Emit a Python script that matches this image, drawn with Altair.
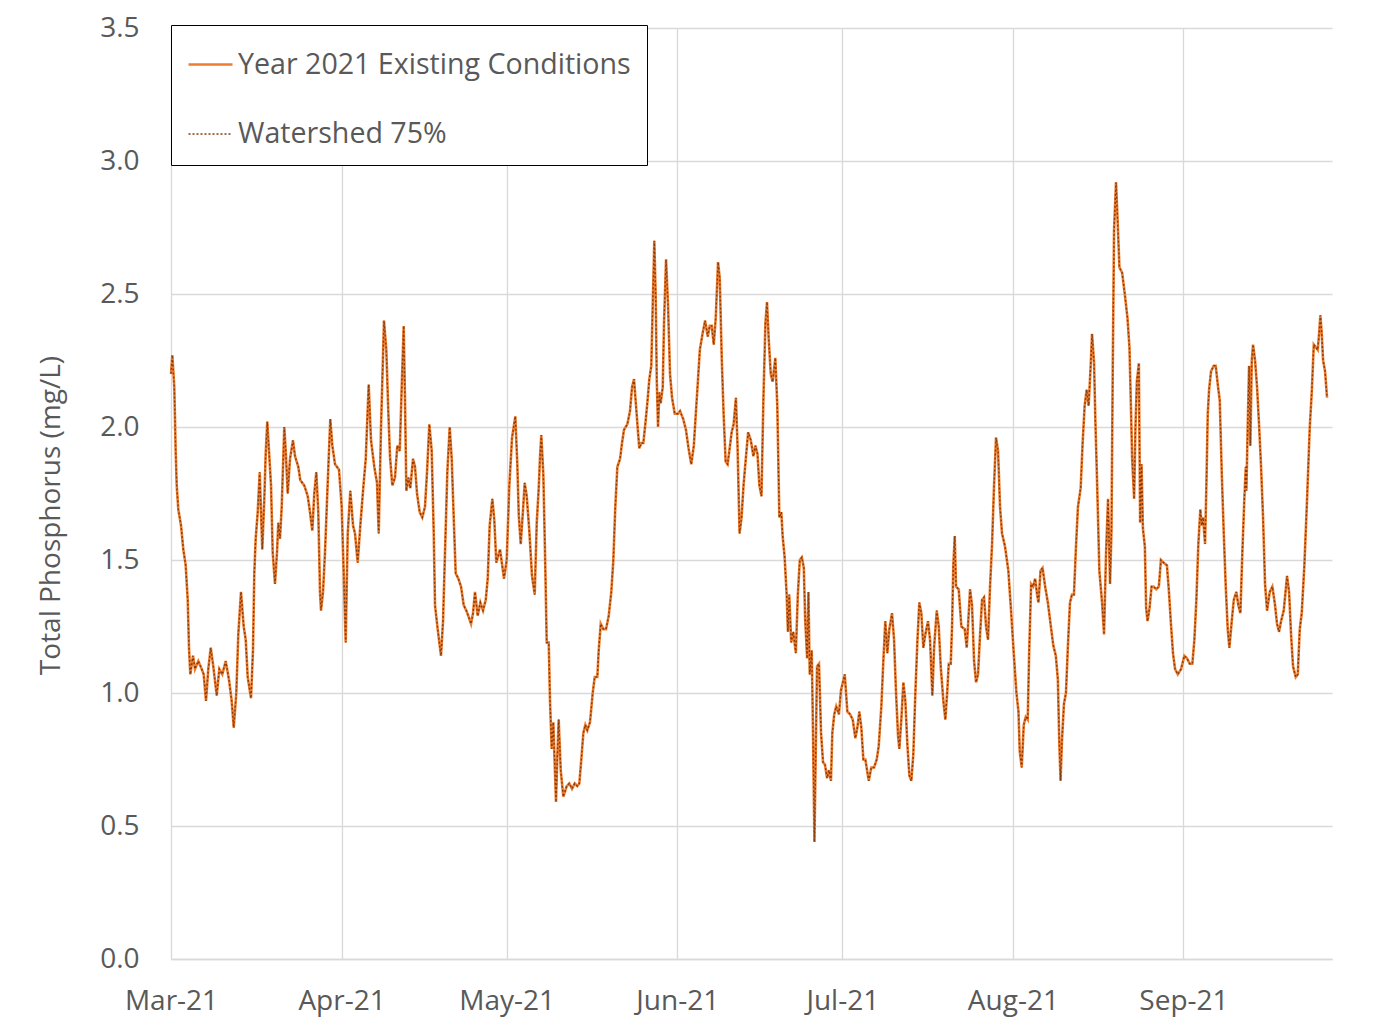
import altair as alt
import pandas as pd

# Days since 2021-03-01 and total phosphorus (mg/L)
MAR = [(0.00,2.20),(0.24,2.27),(0.60,2.15),(0.85,1.91),(1.04,1.78),(1.33,1.69),(1.82,1.63),(2.24,1.54),(2.67,1.48),(3.04,1.35),(3.27,1.17),(3.51,1.07),(4.00,1.14),(4.36,1.09),(4.96,1.12),(5.58,1.09),(5.94,1.07),(6.36,0.97),(6.78,1.09),(7.22,1.17),(7.69,1.10),(8.31,0.99),(8.78,1.09),(9.32,1.07),(9.94,1.12),(10.54,1.05),(11.03,0.97),(11.40,0.87),(11.87,1.00),(12.23,1.22),(12.72,1.38),(13.21,1.25),(13.58,1.20),(13.94,1.06),(14.54,0.98),(14.90,1.16),(15.14,1.45),(15.39,1.58),(15.76,1.68),(16.12,1.83),(16.59,1.54),(16.96,1.73),(17.21,1.90),(17.50,2.02),(17.81,1.91),(18.18,1.78),(18.48,1.53),(18.90,1.41),(19.27,1.53),(19.50,1.64),(19.81,1.58),(20.12,1.70),(20.59,2.00),(20.85,1.91),(21.21,1.75),(21.63,1.88),(22.17,1.95),(22.54,1.89),(23.14,1.85),(23.50,1.80),(24.23,1.78),(24.85,1.74),(25.26,1.68),(25.68,1.61),(26.04,1.75),(26.41,1.83),(26.77,1.68),(27.08,1.38),(27.26,1.31),(27.63,1.38),(27.99,1.53),(28.48,1.79),(28.95,2.03),(29.32,1.93),(29.81,1.86),(30.53,1.84)]
APR = [(31.02,1.70),(31.39,1.45),(31.75,1.19),(32.12,1.60),(32.59,1.76),(33.08,1.63),(33.44,1.60),(33.93,1.49),(34.41,1.63),(34.90,1.76),(35.39,1.88),(35.93,2.16),(36.35,1.95),(36.95,1.85),(37.44,1.79),(37.75,1.60),(38.17,2.00),(38.71,2.40),(39.13,2.29),(39.49,2.06),(39.80,1.89),(40.22,1.78),(40.71,1.81),(41.13,1.93),(41.57,1.91),(41.93,2.15),(42.29,2.38),(42.53,2.10),(42.77,1.76),(43.13,1.81),(43.49,1.77),(43.98,1.88),(44.35,1.85),(44.71,1.75),(45.20,1.68),(45.67,1.66),(46.16,1.70),(46.53,1.83),(46.95,2.01),(47.38,1.91),(47.75,1.60),(47.98,1.33),(48.47,1.24),(49.07,1.14),(49.44,1.27),(49.80,1.53),(50.22,1.83),(50.65,2.00),(51.02,1.88),(51.38,1.66),(51.74,1.45),(52.22,1.43),(52.71,1.40),(53.20,1.33),(53.67,1.31),(54.03,1.29),(54.53,1.26),(54.89,1.30),(55.25,1.38),(55.74,1.29),(56.22,1.34),(56.71,1.31),(57.20,1.35),(57.56,1.43),(57.92,1.63),(58.40,1.73),(58.76,1.65),(59.12,1.49),(59.80,1.54),(60.52,1.43)]
MAY = [(61.01,1.50),(61.49,1.78),(61.98,1.96),(62.58,2.04),(62.94,1.86),(63.20,1.67),(63.56,1.56),(63.92,1.67),(64.28,1.79),(64.65,1.74),(65.12,1.61),(65.61,1.44),(66.10,1.37),(66.47,1.64),(66.83,1.77),(67.07,1.89),(67.30,1.97),(67.67,1.82),(68.03,1.47),(68.28,1.19),(68.65,1.19),(68.88,0.97),(69.19,0.79),(69.48,0.89),(69.74,0.73),(69.97,0.59),(70.21,0.76),(70.46,0.90),(70.83,0.71),(71.30,0.61),(71.92,0.65),(72.39,0.66),(72.88,0.64),(73.37,0.66),(73.85,0.65),(74.21,0.66),(74.57,0.75),(74.94,0.85),(75.30,0.88),(75.66,0.86),(76.15,0.89),(76.64,1.00),(77.01,1.06),(77.48,1.06),(77.73,1.16),(78.10,1.26),(78.57,1.24),(79.06,1.24),(79.55,1.29),(80.02,1.38),(80.39,1.50),(80.75,1.70),(81.12,1.85),(81.61,1.88),(81.97,1.94),(82.33,1.99),(82.93,2.01),(83.42,2.06),(83.79,2.15),(84.15,2.18),(84.51,2.08),(84.88,1.98),(85.11,1.92),(85.48,1.94),(85.84,1.94),(86.20,2.01),(86.57,2.09),(86.93,2.18),(87.29,2.23),(87.55,2.46),(87.84,2.70),(88.09,2.49),(88.28,2.18),(88.51,2.00),(88.75,2.13),(89.00,2.09),(89.37,2.15),(89.60,2.39),(89.97,2.63),(90.33,2.46),(90.69,2.20),(91.06,2.11),(91.55,2.05)]
JUN = [(92.15,2.05),(92.51,2.06),(93.09,2.03),(93.58,1.99),(94.06,1.92),(94.55,1.86),(95.02,1.93),(95.38,2.05),(95.75,2.17),(96.11,2.29),(96.60,2.35),(97.07,2.40),(97.55,2.34),(97.91,2.38),(98.27,2.38),(98.64,2.31),(99.00,2.41),(99.42,2.62),(99.73,2.56),(100.09,2.26),(100.43,2.05),(100.80,1.87),(101.16,1.86),(101.53,1.92),(101.89,1.98),(102.25,2.01),(102.67,2.11),(102.96,1.93),(103.33,1.60),(103.69,1.66),(104.05,1.78),(104.42,1.87),(104.89,1.98),(105.38,1.95),(105.85,1.89),(106.21,1.93),(106.58,1.90),(106.94,1.78),(107.31,1.74),(107.67,2.11),(108.03,2.39),(108.32,2.47),(108.63,2.33),(109.00,2.20),(109.34,2.17),(109.83,2.26),(110.19,2.08),(110.56,1.66),(110.92,1.68),(111.16,1.59),(111.52,1.51),(111.89,1.37),(112.12,1.23),(112.36,1.37),(112.72,1.19),(113.09,1.23),(113.56,1.15),(113.92,1.37),(114.28,1.50),(114.65,1.51),(115.01,1.47),(115.25,1.28),(115.61,1.13),(115.85,1.38),(116.08,1.07),(116.45,1.16),(116.68,0.85),(116.94,0.44),(117.17,0.77),(117.41,1.10),(117.77,1.11),(118.14,0.85),(118.50,0.74),(118.86,0.73),(119.23,0.68),(119.57,0.71),(119.94,0.67),(120.19,0.85),(120.54,0.92),(120.90,0.95),(121.39,0.92),(121.76,1.01)]
JUL = [(122.45,1.07),(122.92,0.93),(123.41,0.92),(123.90,0.90),(124.37,0.83),(124.74,0.87),(125.10,0.93),(125.46,0.87),(125.83,0.75),(126.19,0.75),(126.81,0.67),(127.28,0.72),(127.77,0.72),(128.26,0.75),(128.62,0.80),(129.10,0.95),(129.46,1.12),(129.82,1.27),(130.19,1.15),(130.55,1.24),(131.04,1.30),(131.41,1.20),(131.77,1.00),(132.13,0.84),(132.37,0.79),(132.73,0.90),(133.10,1.04),(133.46,0.97),(133.82,0.81),(134.19,0.69),(134.55,0.67),(134.91,0.77),(135.28,1.00),(135.64,1.19),(136.00,1.34),(136.37,1.30),(136.73,1.17),(137.09,1.22),(137.58,1.27),(137.95,1.20),(138.37,0.99),(138.68,1.17),(139.17,1.31),(139.53,1.25),(139.89,1.10),(140.37,0.97),(140.73,0.90),(141.09,1.01),(141.35,1.11),(141.71,1.11),(141.95,1.25),(142.18,1.48),(142.44,1.59),(142.67,1.40),(143.16,1.39),(143.64,1.25),(144.25,1.24),(144.62,1.17),(144.98,1.30),(145.22,1.39),(145.58,1.33),(145.95,1.12),(146.31,1.04),(146.67,1.07),(147.04,1.22),(147.40,1.35),(147.76,1.36),(148.13,1.25),(148.49,1.20),(148.85,1.40),(149.22,1.56),(149.58,1.78),(149.94,1.96),(150.31,1.91),(150.67,1.70),(151.03,1.60),(151.58,1.55),(152.18,1.46),(152.67,1.31)]
AUG = [(153.16,1.15),(153.65,1.00),(154.02,0.93),(154.25,0.78),(154.61,0.72),(154.98,0.88),(155.34,0.91),(155.70,0.90),(155.96,1.15),(156.32,1.41),(156.69,1.40),(157.05,1.43),(157.41,1.37),(157.65,1.34),(158.03,1.46),(158.40,1.47),(158.87,1.40),(159.36,1.34),(159.85,1.26),(160.34,1.18),(160.81,1.14),(161.18,1.05),(161.43,0.82),(161.67,0.67),(161.92,0.82),(162.29,0.96),(162.65,1.00),(163.01,1.18),(163.38,1.34),(163.74,1.37),(164.10,1.37),(164.47,1.55),(164.83,1.70),(165.32,1.77),(165.68,1.94),(166.05,2.08),(166.41,2.14),(166.77,2.08),(167.14,2.23),(167.39,2.35),(167.76,2.24),(167.99,2.03),(168.35,1.76),(168.72,1.46),(169.21,1.34),(169.57,1.22),(169.94,1.53),(170.30,1.73),(170.66,1.41),(170.92,1.61),(171.15,2.21),(171.39,2.74),(171.75,2.92),(172.01,2.79),(172.37,2.60),(172.86,2.58),(173.34,2.50),(173.83,2.41),(174.19,2.30),(174.44,2.09),(174.68,1.88),(175.04,1.73),(175.28,2.00),(175.53,2.17),(175.90,2.24),(176.13,1.64),(176.39,1.86),(176.63,1.62),(176.99,1.55),(177.22,1.32),(177.48,1.27),(177.84,1.32),(178.21,1.40),(178.57,1.40),(179.06,1.39),(179.53,1.40),(179.91,1.50),(180.39,1.49),(181.00,1.48),(181.37,1.38),(181.73,1.26),(182.10,1.15),(182.48,1.09),(182.97,1.07),(183.57,1.09)]
SEP = [(184.17,1.14),(184.66,1.13),(185.15,1.11),(185.62,1.11),(185.99,1.20),(186.35,1.35),(186.71,1.56),(187.07,1.69),(187.33,1.63),(187.57,1.66),(187.93,1.56),(188.17,1.78),(188.42,2.05),(188.66,2.14),(189.02,2.21),(189.51,2.23),(189.87,2.23),(190.24,2.16),(190.60,2.10),(190.96,1.83),(191.33,1.60),(191.69,1.40),(192.05,1.24),(192.35,1.17),(192.78,1.27),(193.15,1.35),(193.62,1.38),(193.98,1.33),(194.35,1.30),(194.71,1.53),(195.07,1.73),(195.33,1.85),(195.44,1.76),(195.69,2.01),(195.93,2.23),(196.16,1.93),(196.42,2.25),(196.65,2.31),(197.02,2.25),(197.38,2.15),(197.74,2.01),(198.11,1.85),(198.47,1.66),(198.83,1.41),(199.20,1.31),(199.69,1.38),(200.16,1.40),(200.65,1.33),(201.01,1.26),(201.38,1.23),(201.74,1.27),(202.23,1.31),(202.83,1.44),(203.20,1.38),(203.56,1.22),(203.92,1.10),(204.41,1.06),(204.78,1.07),(205.14,1.24),(205.50,1.30),(205.98,1.48),(206.47,1.73),(206.96,2.00),(207.32,2.13),(207.69,2.31),(208.05,2.30),(208.41,2.29),(208.65,2.35),(208.89,2.42),(209.14,2.35),(209.38,2.25),(209.74,2.21),(210.10,2.11)]

SERIES = ["Year 2021 Existing Conditions", "Watershed 75%"]
COLORS = ["#ED7D31", "#843C0C"]
DASHES = [[1, 0], [2, 2]]
WIDTHS = [2.6, 1.4]
MONTH_TICKS = [3, 4, 5, 6, 7, 8, 9]
Y_TICKS = [0, 0.5, 1.0, 1.5, 2.0, 2.5, 3.0, 3.5]

start = pd.Timestamp("2021-03-01")
points = MAR + APR + MAY + JUN + JUL + AUG + SEP
rows = []
for s in SERIES:
    for d, v in points:
        t = start + pd.Timedelta(days=d)
        rows.append({"date": t.strftime("%Y-%m-%dT%H:%M:%S"), "tp": v, "series": s})
df = pd.DataFrame(rows)

legend = alt.Legend(
    title=None, orient="none", legendX=0, legendY=-3, direction="vertical",
    fillColor="white", strokeColor="black", padding=16,
    symbolType="stroke", symbolSize=1936, labelFontSize=28.6, labelColor="#595959",
    labelOffset=4, rowPadding=31, labelLimit=600,
)

chart = alt.Chart(df).mark_line(interpolate="linear").encode(
    x=alt.X(
        "date:T",
        scale=alt.Scale(domain=[alt.DateTime(year=2021, month=3, date=1),
                                alt.DateTime(year=2021, month=9, date=28)]),
        axis=alt.Axis(
            title=None, values=[alt.DateTime(year=2021, month=m, date=1) for m in MONTH_TICKS],
            format="%b-%y", labelFontSize=28, labelColor="#595959", labelPadding=28,
            ticks=False, tickSize=0, labelFlush=False, labelOverlap=False,
            domainColor="#D9D9D9", domainWidth=1.3, gridColor="#D9D9D9", gridWidth=1.3,
        ),
    ),
    y=alt.Y(
        "tp:Q",
        scale=alt.Scale(domain=[0, 3.5], nice=False),
        axis=alt.Axis(
            title="Total Phosphorus (mg/L)", values=Y_TICKS, format=".1f",
            labelFontSize=28, labelColor="#595959", labelPadding=32,
            ticks=False, tickSize=0, domain=False,
            gridColor="#D9D9D9", gridWidth=1.3,
            titleFontSize=28, titleColor="#595959", titleFontWeight="normal",
            titleX=-120, titleY=487, titleAlign="center", titleBaseline="middle",
        ),
    ),
    color=alt.Color("series:N", scale=alt.Scale(domain=SERIES, range=COLORS), legend=legend),
    strokeDash=alt.StrokeDash("series:N", scale=alt.Scale(domain=SERIES, range=DASHES), legend=legend),
    strokeWidth=alt.StrokeWidth("series:N", scale=alt.Scale(domain=SERIES, range=WIDTHS), legend=legend),
).properties(
    width=1161, height=931,
    padding={"left": 163, "top": 20, "right": 40, "bottom": 60},
    autosize=alt.AutoSizeParams(type="none"),
    background="white",
).configure(font="Open Sans").configure_view(strokeWidth=0)

chart.save("out.html", embed_options={"renderer": "svg", "actions": False})
